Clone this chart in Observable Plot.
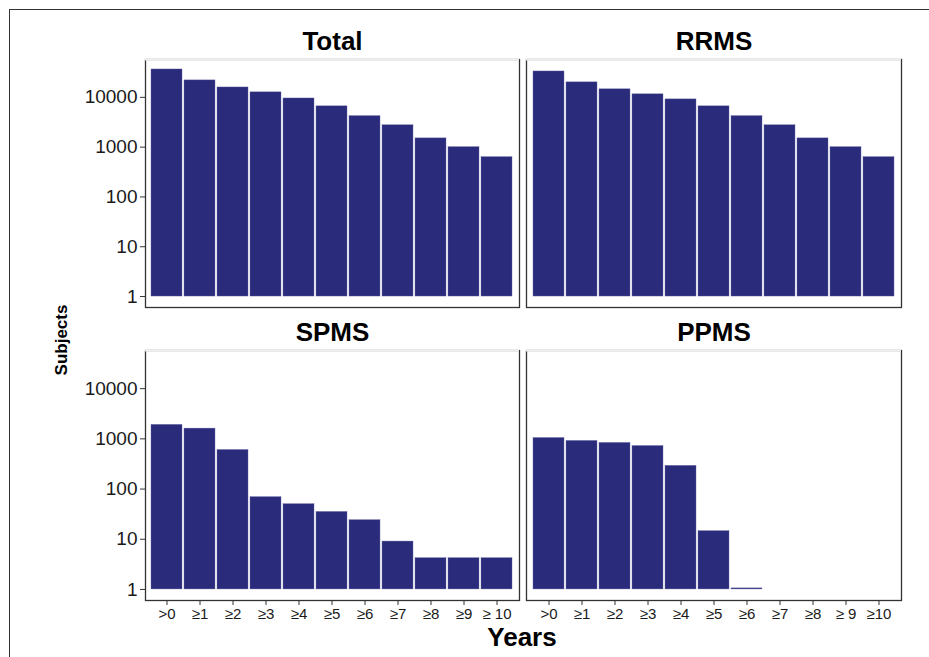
<!DOCTYPE html>
<html>
<head>
<meta charset="utf-8">
<script src="https://cdn.jsdelivr.net/npm/d3@7"></script>
<script src="https://cdn.jsdelivr.net/npm/@observablehq/plot@0.6"></script>
<style>
  html, body { margin: 0; padding: 0; background: #fff; }
  #chart { position: relative; width: 929px; height: 657px; overflow: hidden; font-family: "Liberation Sans", Arial, sans-serif; }
  #chart svg { position: absolute; overflow: visible; }
  .outer { position: absolute; left: 9px; top: 9px; width: 940px; height: 660px; border-left: 1.5px solid #333; border-top: 1.5px solid #333; }
  .ylab { position: absolute; left: 61px; top: 340px; transform: translate(-50%, -50%) rotate(-90deg); font-weight: bold; font-size: 17px; line-height: 17px; color: #000; white-space: nowrap; }
  .xlab { position: absolute; left: 522px; top: 628px; transform: translateX(-50%); font-weight: bold; font-size: 26px; line-height: 18px; color: #000; white-space: nowrap; }
</style>
</head>
<body>
<div id="chart">
  <div class="outer"></div>
  <div class="ylab">Subjects</div>
  <div class="xlab">Years</div>
</div>
<script>
// Panel titles
const panelTitles = ["Total", "RRMS", "SPMS", "PPMS"];
// Category tick labels
const xLabelsTop = [">0", "≥1", "≥2", "≥3", "≥4", "≥5", "≥6", "≥7", "≥8", "≥9", "≥10"];
const xLabelsSPMS = [">0", "≥1", "≥2", "≥3", "≥4", "≥5", "≥6", "≥7", "≥8", "≥9", "≥ 10"];
const xLabelsPPMS = [">0", "≥1", "≥2", "≥3", "≥4", "≥5", "≥6", "≥7", "≥8", "≥ 9", "≥10"];
// Y ticks
const yTicks = [1, 10, 100, 1000, 10000];
// Values (subjects)
const totalValues = [36300, 21900, 15800, 12600, 9500, 6600, 4200, 2750, 1500, 1000, 630];
const rrmsValues  = [33100, 20000, 14500, 11500, 9100, 6600, 4200, 2750, 1500, 1000, 630];
const spmsValues  = [1900, 1600, 600, 69, 50, 35, 24, 9, 4.2, 4.2, 4.2];
const ppmsValues  = [1040, 910, 830, 720, 290, 14.5, 1.05, 0, 0, 0, 0];

const yDomain = [Math.pow(10, -0.22), Math.pow(10, 4.76)];
const barFill = "#2a2b7b";
const font = "Liberation Sans, Arial, sans-serif";

function panel({title, labels, values, showY, showX, left, top, width, height, mLeft, mRight, mTop, mBottom}) {
  const data = labels.map((label, i) => ({label, value: values[i]})).filter(d => d.value > 0);
  const marks = [
    Plot.frame({stroke: "#333", strokeWidth: 1.3}),
    Plot.ruleY([yDomain[1]], {stroke: "#f0f0f0", strokeWidth: 2}),
    Plot.barY(data, {x: "label", y1: 1, y2: "value", fill: barFill, stroke: "#6a6aa6", strokeWidth: 0.4}),
    Plot.text([title], {frameAnchor: "top", dy: -10, lineAnchor: "bottom", fontSize: 26, fontWeight: "bold", fill: "#000"})
  ];
  if (showY) marks.push(Plot.axisY({ticks: yTicks, tickFormat: d => String(d), fontSize: 19, tickSize: 5, tickPadding: 3, color: "#1a1a1a", stroke: "#333"}));
  if (showX) marks.push(Plot.axisX({fontSize: 15, tickSize: 5, tickPadding: 3, color: "#1a1a1a", stroke: "#333"}));
  const svg = Plot.plot({
    width, height,
    marginLeft: mLeft, marginRight: mRight, marginTop: mTop, marginBottom: mBottom,
    style: {fontFamily: font, background: "transparent", overflow: "visible"},
    x: {domain: labels, paddingInner: 0.05, paddingOuter: 0.125, axis: showX ? undefined : null, label: null},
    y: {type: "log", domain: yDomain, axis: showY ? undefined : null, label: null},
    marks
  });
  svg.style.left = left + "px";
  svg.style.top = top + "px";
  document.getElementById("chart").appendChild(svg);
}

panel({title: panelTitles[0], labels: xLabelsTop, values: totalValues, showY: true, showX: false,
  left: 0, top: 0, width: 521, height: 310, mLeft: 145, mRight: 2, mTop: 59, mBottom: 3});
panel({title: panelTitles[1], labels: xLabelsTop, values: rrmsValues, showY: false, showX: false,
  left: 520, top: 0, width: 383, height: 310, mLeft: 6, mRight: 2, mTop: 59, mBottom: 3});
panel({title: panelTitles[2], labels: xLabelsSPMS, values: spmsValues, showY: true, showX: true,
  left: 0, top: 300, width: 521, height: 357, mLeft: 145, mRight: 2, mTop: 50, mBottom: 57});
panel({title: panelTitles[3], labels: xLabelsPPMS, values: ppmsValues, showY: false, showX: true,
  left: 520, top: 300, width: 383, height: 357, mLeft: 6, mRight: 2, mTop: 50, mBottom: 57});
</script>
</body>
</html>
